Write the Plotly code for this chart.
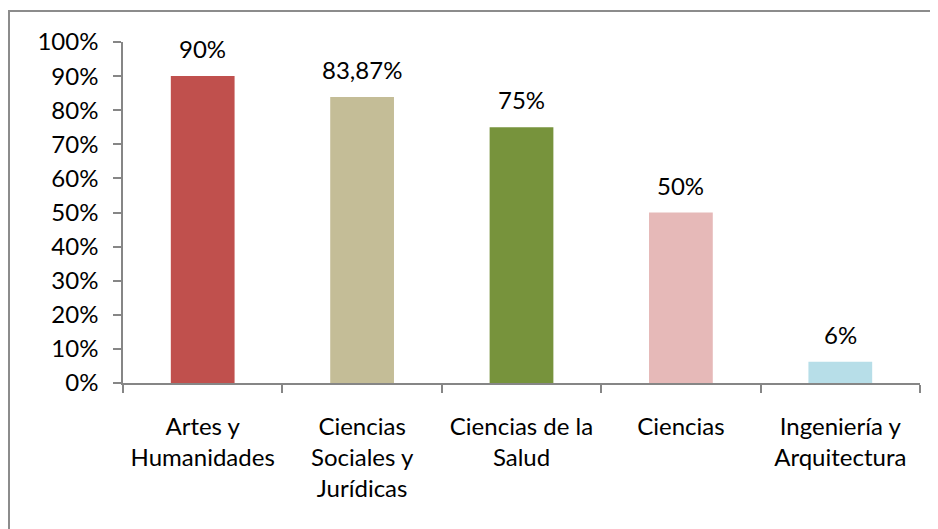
import plotly.graph_objects as go

categories = ["Artes y<br>Humanidades", "Ciencias<br>Sociales y<br>Jurídicas", "Ciencias de la<br>Salud", "Ciencias", "Ingeniería y<br>Arquitectura"]
values = [90, 83.87, 75, 50, 6.25]
value_labels = ["90%", "83,87%", "75%", "50%", "6%"]
bar_colors = ["#C0504D", "#C4BD97", "#77933C", "#E6B9B8", "#B7DEE8"]
y_tick_vals = [0, 10, 20, 30, 40, 50, 60, 70, 80, 90, 100]
y_tick_text = ["0%", "10%", "20%", "30%", "40%", "50%", "60%", "70%", "80%", "90%", "100%"]

FONT = "Lato"
FS = 24
OFF = 8  # page body margin
W, H = 938 - OFF, 529 - OFF
L, R, T, B = 123 - OFF, 18, 42 - OFF, 146
pw = W - L - R
ph = H - T - B

fig = go.Figure(go.Bar(
    x=categories, y=values, marker_color=bar_colors, marker_line_width=0,
    hoverinfo="skip",
))

for c, v, t in zip(categories, values, value_labels):
    fig.add_annotation(x=c, y=v, text=t, showarrow=False, yanchor="bottom",
                       yshift=11, font=dict(family=FONT, size=FS, color="#000000"))

fig.update_layout(
    width=W, height=H,
    margin=dict(l=L, r=R, t=T, b=B, autoexpand=False),
    paper_bgcolor="white", plot_bgcolor="white",
    bargap=0.6, showlegend=False,
    font=dict(family=FONT, size=FS, color="#000000"),
)
fig.update_yaxes(
    range=[0, 100], tickvals=y_tick_vals, ticktext=y_tick_text,
    showgrid=False, zeroline=False, showline=True, linecolor="#868686", linewidth=1.5,
    ticks="outside", ticklen=8, tickcolor="#868686", tickwidth=1.5,
    ticklabelstandoff=10, tickfont=dict(family=FONT, size=FS), automargin=False,
)
fig.update_xaxes(
    showgrid=False, showline=True, linecolor="#868686", linewidth=1.5,
    ticks="outside", ticklen=8, tickcolor="#868686", tickwidth=1.5,
    tickson="boundaries", tickfont=dict(family=FONT, size=FS),
    ticklabelstandoff=21, automargin=False,
)

# chart border (only top/left visible in the reference)
x0 = (9 - OFF - L) / pw
y1 = 1 + (T - (11 - OFF)) / ph
fig.add_shape(type="rect", xref="paper", yref="paper",
              x0=x0, x1=1.5, y0=-1, y1=y1,
              line=dict(color="#8C8C8C", width=2), layer="below")

fig.write_html("out.html")
